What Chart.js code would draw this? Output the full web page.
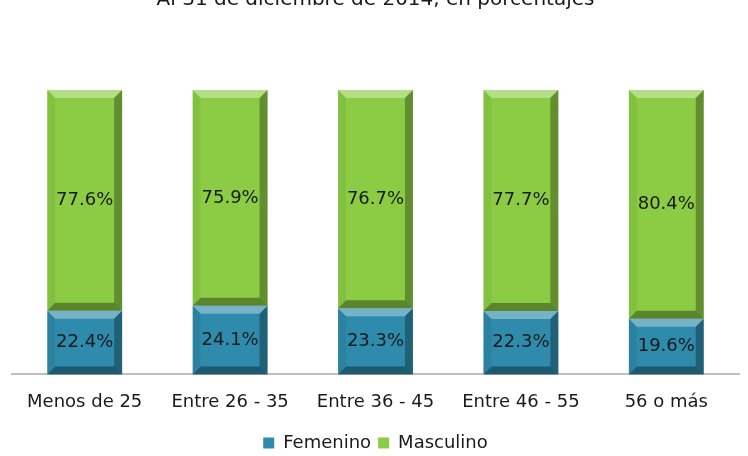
<!DOCTYPE html>
<html lang="es">
<head>
<meta charset="UTF-8">
<title>Distribución por edad y sexo</title>
<style>
    body { margin: 0; background: #fff; }
    .wrap { width: 748px; height: 456px; overflow: hidden; }
    .wrap canvas { margin-top: -12px; }
</style>
</head>
<body>
<div class="wrap">
    <canvas id="chart" width="748" height="478"></canvas>
</div>
<script src="https://cdn.jsdelivr.net/npm/chart.js"></script>
<script>
    // datos
    const categorias = ["Menos de 25", "Entre 26 - 35", "Entre 36 - 45", "Entre 46 - 55", "56 o más"];
    const femenino = [22.4, 24.1, 23.3, 22.3, 19.6];
    const masculino = [77.6, 75.9, 76.7, 77.7, 80.4];

    const fuente = "'DejaVu Sans', sans-serif";

    // etiquetas de porcentaje en el centro de cada segmento
    const etiquetas = {
        id: "etiquetas",
        afterDatasetsDraw(chart) {
            const ctx = chart.ctx;
            ctx.save();
            ctx.font = "18px " + fuente;
            ctx.fillStyle = "#1a1a1a";
            ctx.textAlign = "center";
            ctx.textBaseline = "middle";
            chart.data.datasets.forEach((ds, i) => {
                chart.getDatasetMeta(i).data.forEach((bar, j) => {
                    const y = (bar.y + bar.base) / 2;
                    ctx.fillText(ds.data[j].toFixed(1) + "%", bar.x, y);
                });
            });
            ctx.restore();
        }
    };

    // efecto biselado sobre las barras
    const bisel = {
        id: "bisel",
        afterDatasetsDraw(chart) {
            const ctx = chart.ctx;
            const b = 8;
            ctx.save();
            chart.data.datasets.forEach((ds, i) => {
                chart.getDatasetMeta(i).data.forEach(bar => {
                    const l = bar.x - bar.width / 2, r = bar.x + bar.width / 2;
                    const t = Math.min(bar.y, bar.base), bt = Math.max(bar.y, bar.base);
                    const poly = (pts, color) => {
                        ctx.beginPath();
                        ctx.moveTo(pts[0][0], pts[0][1]);
                        pts.slice(1).forEach(p => ctx.lineTo(p[0], p[1]));
                        ctx.closePath();
                        ctx.fillStyle = color;
                        ctx.fill();
                    };
                    poly([[l, t], [r, t], [r - b, t + b], [l + b, t + b]], "rgba(255,255,255,0.35)");
                    poly([[l, t], [l + b, t + b], [l + b, bt - b], [l, bt]], "rgba(0,0,0,0.06)");
                    poly([[r, t], [r, bt], [r - b, bt - b], [r - b, t + b]], "rgba(0,0,0,0.3)");
                    poly([[l, bt], [l + b, bt - b], [r - b, bt - b], [r, bt]], "rgba(0,0,0,0.35)");
                });
            });
            ctx.restore();
        }
    };

    new Chart(document.getElementById("chart"), {
        type: "bar",
        data: {
            labels: categorias,
            datasets: [
                { label: "Femenino", data: femenino, backgroundColor: "#2e8bab", borderWidth: 0 },
                { label: "Masculino", data: masculino, backgroundColor: "#8bcc44", borderWidth: 0 }
            ]
        },
        options: {
            responsive: false,
            animation: false,
            layout: { padding: { left: 12, right: 9, top: 0, bottom: 4 } },
            datasets: { bar: { categoryPercentage: 1, barPercentage: 0.515 } },
            scales: {
                x: {
                    stacked: true,
                    grid: { display: false },
                    border: { color: "#bfbfbf", width: 2 },
                    ticks: { color: "#1a1a1a", font: { family: fuente, size: 18 }, padding: 9 },
                    afterFit(scale) { scale.height += 5; }
                },
                y: { stacked: true, display: false, min: 0, max: 100 }
            },
            plugins: {
                title: {
                    display: true,
                    text: "Al 31 de diciembre de 2014, en porcentajes",
                    color: "#1a1a1a",
                    font: { family: fuente, size: 20, weight: "normal" },
                    padding: { top: 0, bottom: 78 }
                },
                legend: {
                    position: "bottom",
                    labels: {
                        color: "#1a1a1a",
                        font: { family: fuente, size: 18 },
                        boxWidth: 11, boxHeight: 11, padding: 7
                    }
                },
                tooltip: { enabled: false }
            }
        },
        plugins: [bisel, etiquetas]
    });
</script>
</body>
</html>
